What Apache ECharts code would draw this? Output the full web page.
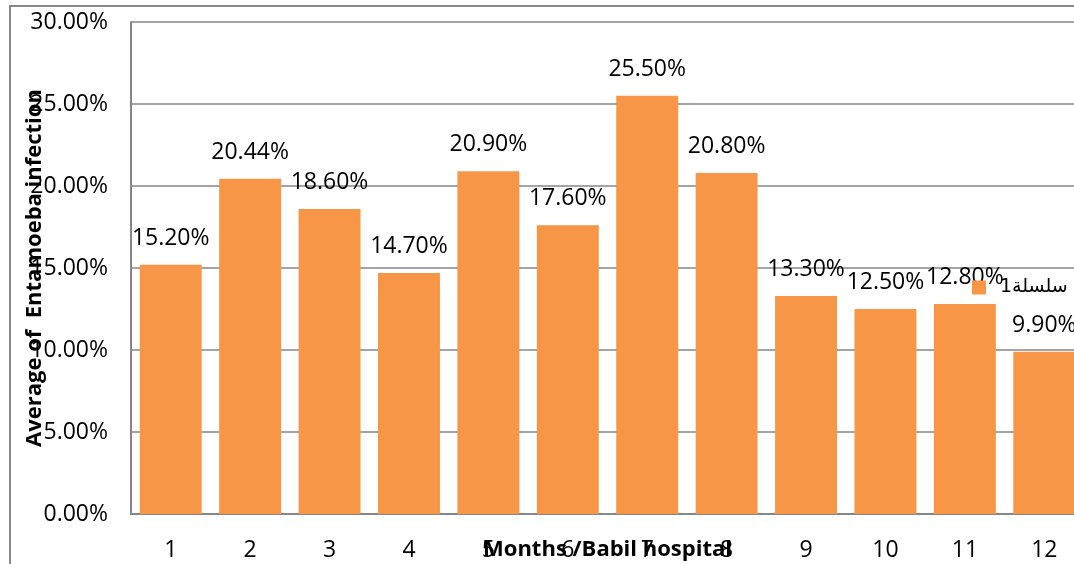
<!DOCTYPE html>
<html>
<head>
<meta charset="utf-8">
<script src="https://cdn.jsdelivr.net/npm/echarts@6/dist/echarts.min.js"></script>
<style>
  html, body { margin: 0; padding: 0; background: #fff; }
  #chart { width: 1074px; height: 564px; }
</style>
</head>
<body>
<div id="chart"></div>
<script>
// months 1..12
const months = ['1', '2', '3', '4', '5', '6', '7', '8', '9', '10', '11', '12'];
// average infection, percent
const infection = [15.20, 20.44, 18.60, 14.70, 20.90, 17.60, 25.50, 20.80, 13.30, 12.50, 12.80, 9.90];
const seriesName = '\u2067سلسلة1\u2069';

const font = '"Open Sans", "DejaVu Sans", sans-serif';
const chart = echarts.init(document.getElementById('chart'));

chart.setOption({
  animation: false,
  textStyle: { fontFamily: font },
  grid: { left: 131, top: 22, width: 953, bottom: 50, containLabel: false, outerBoundsMode: 'none' },
  legend: {
    left: 972,
    top: 278,
    padding: 0,
    itemWidth: 14,
    itemHeight: 14,
    icon: 'rect',
    textStyle: { fontSize: 19, color: '#000', fontFamily: '"DejaVu Sans", sans-serif', padding: [0, 0, 0, 9] },
    data: [seriesName]
  },
  xAxis: {
    type: 'category',
    data: months,
    name: 'Months /Babil hospital',
    nameLocation: 'middle',
    nameGap: 25,
    nameMoveOverlap: false,
    nameTextStyle: { fontSize: 22, fontWeight: 'bold', color: '#000', verticalAlign: 'top' },
    axisLine: { lineStyle: { color: '#868686', width: 2 } },
    axisTick: { show: false },
    axisLabel: { fontSize: 23, color: '#000', margin: 25 }
  },
  yAxis: {
    type: 'value',
    min: 0,
    max: 30,
    interval: 5,
    name: 'Average of  Entamoeba infection',
    nameLocation: 'middle',
    nameGap: 85,
    nameMoveOverlap: false,
    nameTextStyle: { fontSize: 22, fontWeight: 'bold', color: '#000' },
    axisLine: { show: true, lineStyle: { color: '#868686', width: 2 } },
    axisTick: { show: false },
    axisLabel: { fontSize: 23, color: '#000', margin: 23, formatter: v => v.toFixed(2) + '%' },
    splitLine: { lineStyle: { color: '#868686', width: 1.5 } }
  },
  series: [{
    name: seriesName,
    type: 'bar',
    data: infection,
    barCategoryGap: '22%',
    itemStyle: { color: '#F79646' },
    label: {
      show: true,
      position: 'top',
      distance: 15,
      fontSize: 23,
      color: '#000',
      formatter: p => p.value.toFixed(2) + '%'
    }
  }],
  graphic: [
    { type: 'line', shape: { x1: 10, y1: 5, x2: 10, y2: 564 }, style: { stroke: '#898989', lineWidth: 2 } },
    { type: 'line', shape: { x1: 9, y1: 6, x2: 1074, y2: 6 }, style: { stroke: '#898989', lineWidth: 2 } }
  ]
});
</script>
</body>
</html>
